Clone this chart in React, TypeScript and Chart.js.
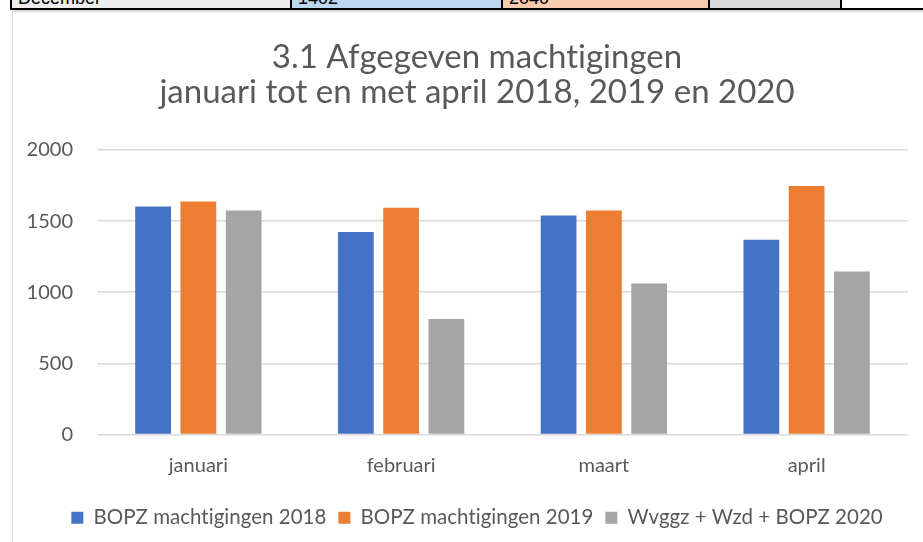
import React, { useEffect, useRef } from "react";
import { Chart, registerables } from "chart.js";

Chart.register(...registerables);

const categories = ["januari", "februari", "maart", "april"];
const bopz2018 = [1603, 1423, 1540, 1369];
const bopz2019 = [1638, 1594, 1575, 1746];
const wvggz2020 = [1575, 811, 1062, 1146];
const seriesLabels = ["BOPZ machtigingen 2018", "BOPZ machtigingen 2019", "Wvggz + Wzd + BOPZ 2020"];
const titleLines = ["3.1 Afgegeven machtigingen", "januari tot en met april 2018, 2019 en 2020"];
const tableCells = ["December", "1402", "2040", ""];

const FONT = "Lato, 'Open Sans', sans-serif";
const TEXT = "#595959";
const CANVAS_W = 928;

const noLigatures = {
  id: "noLigatures",
  beforeInit(chart: any) {
    chart.ctx.letterSpacing = "0.01px";
  },
  beforeLayout(chart: any) {
    chart.ctx.letterSpacing = "0.01px";
  },
  beforeDraw(chart: any) {
    chart.ctx.letterSpacing = "0.01px";
  },
};

export default function App() {
  const ref = useRef<HTMLCanvasElement | null>(null);

  useEffect(() => {
    const canvas = ref.current;
    if (!canvas) return;
    const chart = new Chart(canvas, {
      type: "bar",
      plugins: [noLigatures],
      data: {
        labels: categories,
        datasets: [
          { label: seriesLabels[0], data: bopz2018, backgroundColor: "#4472c4" },
          { label: seriesLabels[1], data: bopz2019, backgroundColor: "#ed7d31" },
          { label: seriesLabels[2], data: wvggz2020, backgroundColor: "#a5a5a5" },
        ],
      },
      options: {
        animation: false,
        responsive: false,
        maintainAspectRatio: false,
        devicePixelRatio: 1,
        layout: { padding: { left: 0, right: 0, top: 0, bottom: 4 } },
        datasets: { bar: { categoryPercentage: 0.67, barPercentage: 0.79 } },
        scales: {
          x: {
            grid: { display: false, drawTicks: false },
            border: { display: false },
            ticks: { color: TEXT, font: { family: FONT, size: 20 }, padding: 19 },
            afterFit: (s: any) => { s.height = 61; },
          },
          y: {
            min: 0,
            max: 2000,
            ticks: {
              stepSize: 500,
              color: TEXT,
              font: { family: FONT, size: 20 },
              padding: 24,
              callback: (v: any) => String(v),
            },
            grid: { color: "#d9d9d9", lineWidth: 1.5, drawTicks: false },
            border: { display: false },
            afterFit: (s: any) => { s.width = 84; },
          },
          yRight: {
            position: "right",
            display: true,
            min: 0,
            max: 2000,
            grid: { display: false, drawTicks: false },
            border: { display: false },
            ticks: { display: false },
            afterFit: (s: any) => { s.width = CANVAS_W - 895; },
          },
        },
        plugins: {
          title: {
            display: true,
            text: titleLines,
            color: TEXT,
            font: { family: FONT, size: 33, weight: "normal", lineHeight: 1.06 },
            padding: { top: 28, bottom: 40 },
          },
          legend: {
            position: "bottom",
            labels: {
              color: TEXT,
              font: { family: FONT, size: 20.5 },
              boxWidth: 12,
              boxHeight: 12,
              padding: 12,
            },
          },
          tooltip: { enabled: false },
        },
      },
    });
    return () => chart.destroy();
  }, []);

  const cellBounds = [
    [12, 290, "#ededed"],
    [292, 501, "#bdd7ee"],
    [503, 708, "#f8cbad"],
    [710, 840, "#d9d9d9"],
  ] as const;

  return (
    <div style={{ position: "fixed", left: 0, top: 0, width: 923, height: 542, overflow: "hidden", background: "#fff" }}>
      <div style={{ position: "absolute", left: 10, top: 0, width: 950, height: 8, background: "#000" }} />
      {cellBounds.map((c, i) => (
        <div
          key={i}
          style={{
            position: "absolute",
            left: c[0],
            top: 0,
            width: c[1] - c[0],
            height: 8,
            background: c[2],
            overflow: "hidden",
          }}
        >
          <div
            style={{
              position: "absolute",
              left: 6,
              top: -11,
              fontFamily: "'Liberation Sans', Arial, sans-serif",
              fontSize: 18,
              lineHeight: "18px",
              color: "#000",
              whiteSpace: "nowrap",
            }}
          >
            {tableCells[i]}
          </div>
        </div>
      ))}
      <div style={{ position: "absolute", left: 842, top: 0, width: 120, height: 8, background: "#fff" }} />
      <div style={{ position: "absolute", left: 10, top: 8, width: 950, height: 2, background: "#000" }} />
      <div
        style={{
          position: "absolute",
          left: 12,
          top: 10,
          width: 960,
          height: 560,
          borderLeft: "1px solid #d9d9d9",
          borderTop: "2px solid #d9d9d9",
          boxSizing: "border-box",
        }}
      />
      <canvas
        ref={ref}
        width={CANVAS_W}
        height={530}
        style={{ position: "absolute", left: 13, top: 12, width: CANVAS_W, height: 530 }}
      />
    </div>
  );
}
